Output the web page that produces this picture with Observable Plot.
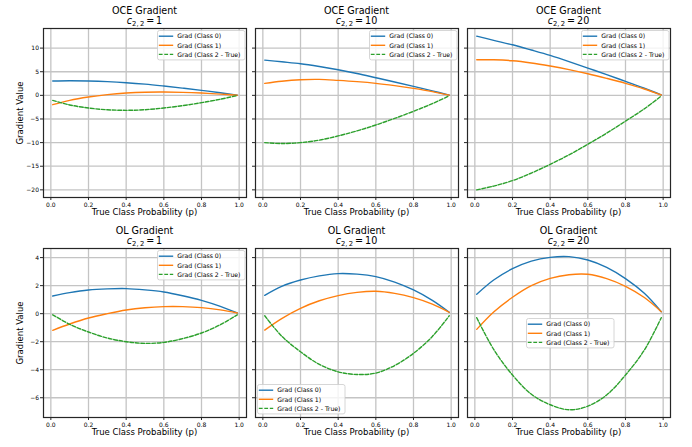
<!DOCTYPE html>
<html><head><meta charset="utf-8">
<script src="https://cdn.jsdelivr.net/npm/d3@7"></script>
<script src="https://cdn.jsdelivr.net/npm/@observablehq/plot@0.6"></script>
<style>
body{margin:0;background:#fff;}
#fig{position:relative;width:692px;height:447px;font-family:"DejaVu Sans",sans-serif;color:#000;overflow:hidden;background:#fff}
.abs{position:absolute;white-space:nowrap;line-height:1}
.title{font-size:9.6px;text-align:center}
.xlab{font-size:8.5px;text-align:center}
.ylab{font-size:8.5px}
svg{overflow:visible}
</style></head><body><div id="fig"></div><script>
// ---- data ----
const p = [0.01, 0.1, 0.2, 0.3, 0.4, 0.5, 0.6, 0.7, 0.8, 0.9, 0.99];
const seriesNames = ["Grad (Class 0)", "Grad (Class 1)", "Grad (Class 2 - True)"];
const xTicks = [0, 0.2, 0.4, 0.6, 0.8, 1.0];
const yTicksOCE = [-20, -15, -10, -5, 0, 5, 10];
const yTicksOL = [-6, -4, -2, 0, 2, 4];
const cValues = [1, 10, 20];

const oce1_c0 = [3.03, 3.08, 3.03, 2.90, 2.68, 2.37, 1.97, 1.53, 1.06, 0.55, 0.03];
const oce1_c1 = [-1.97, -1.05, -0.35, 0.15, 0.49, 0.67, 0.70, 0.64, 0.49, 0.27, 0.01];
const oce1_c2 = [-1.06, -2.03, -2.68, -3.05, -3.17, -3.04, -2.67, -2.17, -1.55, -0.82, -0.04];

const oce10_c0 = [7.46, 7.10, 6.69, 6.10, 5.42, 4.62, 3.73, 2.83, 1.90, 0.95, 0.05];
const oce10_c1 = [2.54, 3.00, 3.31, 3.38, 3.17, 2.90, 2.54, 2.05, 1.48, 0.80, 0.04];
const oce10_c2 = [-10.0, -10.2, -10.0, -9.48, -8.59, -7.52, -6.27, -4.88, -3.38, -1.75, -0.09];

const oce20_c0 = [12.54, 11.65, 10.70, 9.60, 8.45, 7.15, 5.77, 4.40, 2.95, 1.50, 0.08];
const oce20_c1 = [7.54, 7.52, 7.32, 6.85, 6.20, 5.45, 4.58, 3.60, 2.55, 1.35, 0.07];
const oce20_c2 = [-20.0, -19.2, -18.05, -16.45, -14.6, -12.6, -10.35, -8.0, -5.45, -2.85, -0.15];

const ol1_c0 = [1.26, 1.50, 1.69, 1.77, 1.79, 1.70, 1.55, 1.28, 0.95, 0.52, 0.05];
const ol1_c1 = [-1.19, -0.74, -0.31, 0.0, 0.26, 0.42, 0.50, 0.50, 0.43, 0.27, 0.05];
const ol1_c2 = [-0.08, -0.76, -1.31, -1.74, -2.0, -2.12, -2.05, -1.78, -1.38, -0.79, -0.08];

const ol10_c0 = [1.31, 1.95, 2.40, 2.70, 2.86, 2.82, 2.64, 2.25, 1.69, 0.95, 0.10];
const ol10_c1 = [-1.17, -0.35, 0.38, 0.92, 1.29, 1.52, 1.60, 1.45, 1.14, 0.68, 0.10];
const ol10_c2 = [-0.15, -1.60, -2.72, -3.62, -4.15, -4.34, -4.24, -3.70, -2.83, -1.63, -0.15];

const ol20_c0 = [1.38, 2.40, 3.21, 3.75, 4.02, 4.07, 3.83, 3.30, 2.50, 1.45, 0.14];
const ol20_c1 = [-1.12, 0.12, 1.17, 2.00, 2.52, 2.78, 2.81, 2.50, 1.95, 1.15, 0.14];
const ol20_c2 = [-0.29, -2.55, -4.38, -5.75, -6.50, -6.86, -6.60, -5.80, -4.38, -2.60, -0.29];

// ---- layout ----
const colors = ["#1f77b4", "#ff7f0e", "#2ca02c"];
const colLeft = [43, 255, 467], rowTop = [28, 248];
const FW = 203, FH = 169;
const fig = document.getElementById("fig");

const panels = [
  {row:0,col:0,name:"OCE Gradient",c:cValues[0],s:[oce1_c0,oce1_c1,oce1_c2],legend:[157,30.3]},
  {row:0,col:1,name:"OCE Gradient",c:cValues[1],s:[oce10_c0,oce10_c1,oce10_c2],legend:[369,30.3]},
  {row:0,col:2,name:"OCE Gradient",c:cValues[2],s:[oce20_c0,oce20_c1,oce20_c2],legend:[581,30.3]},
  {row:1,col:0,name:"OL Gradient",c:cValues[0],s:[ol1_c0,ol1_c1,ol1_c2],legend:[157,250.3]},
  {row:1,col:1,name:"OL Gradient",c:cValues[1],s:[ol10_c0,ol10_c1,ol10_c2],legend:[257,384]},
  {row:1,col:2,name:"OL Gradient",c:cValues[2],s:[ol20_c0,ol20_c1,ol20_c2],legend:[526,318]},
];

const fmtY = d => d < 0 ? "\u2212" + Math.abs(d) : String(d);

function addDiv(cls, html, left, top, extra) {
  const d = document.createElement("div");
  d.className = "abs " + cls;
  d.innerHTML = html;
  d.style.left = left + "px";
  d.style.top = top + "px";
  if (extra) Object.assign(d.style, extra);
  fig.appendChild(d);
  return d;
}

function legend(x, y) {
  const ns = "http://www.w3.org/2000/svg";
  const w = 87.5, h = 29.4;
  const svg = document.createElementNS(ns, "svg");
  svg.setAttribute("width", w + 1); svg.setAttribute("height", h + 1);
  svg.style.position = "absolute"; svg.style.left = (x - 0.5) + "px"; svg.style.top = (y - 0.5) + "px";
  let inner = `<rect x="0.5" y="0.5" width="${w}" height="${h}" rx="2" fill="white" fill-opacity="0.8" stroke="#cccccc" stroke-width="0.8"/>`;
  seriesNames.forEach((n, i) => {
    const cy = 0.5 + 5.7 + i * 9.1;
    inner += `<line x1="1.8" x2="16.2" y1="${cy}" y2="${cy}" stroke="${colors[i]}" stroke-width="1.4" ${i === 2 ? 'stroke-dasharray="3.8,1.7"' : ''}/>`;
    inner += `<text x="20.2" y="${cy + 2.2}" font-size="6.2" font-family="DejaVu Sans" fill="#000">${n}</text>`;
  });
  svg.innerHTML = inner;
  fig.appendChild(svg);
}

panels.forEach(pn => {
  const ml = 32, mr = 4, mt = 4, mb = 14;
  const yDomain = pn.row === 0 ? [-21.62, 14.15] : [-7.41, 4.65];
  const yTicks = pn.row === 0 ? yTicksOCE : yTicksOL;
  const marks = [
    Plot.gridX(xTicks, {stroke: "#c4c4c4", strokeOpacity: 1, strokeWidth: 1.3}),
    Plot.gridY(yTicks, {stroke: "#c4c4c4", strokeOpacity: 1, strokeWidth: 1.3}),
  ];
  pn.s.forEach((arr, i) => {
    const data = p.map((pp, j) => ({p: pp, v: arr[j], s: seriesNames[i]}));
    marks.push(Plot.line(data, {x: "p", y: "v", stroke: colors[i], strokeWidth: 1.4, curve: "catmull-rom",
      strokeDasharray: i === 2 ? "3.8,1.7" : null}));
  });
  marks.push(Plot.frame({stroke: "#262626", strokeWidth: 1.2}));
  marks.push(Plot.axisX({ticks: xTicks, tickSize: 3, tickPadding: 2, tickFormat: d => d.toFixed(1), fontSize: 6, label: null, stroke: "#262626"}));
  marks.push(Plot.axisY({ticks: yTicks, tickSize: 3, tickPadding: 1.5, tickFormat: pn.col === 0 ? fmtY : () => "", fontSize: 6, label: null, stroke: "#262626"}));
  const chart = Plot.plot({
    width: ml + FW + mr, height: mt + FH + mb,
    marginLeft: ml, marginRight: mr, marginTop: mt, marginBottom: mb,
    x: {domain: [-0.039, 1.039], label: null},
    y: {domain: yDomain, label: null},
    style: {fontFamily: "DejaVu Sans", fontSize: "6px", color: "#000", background: "transparent", overflow: "visible"},
    marks
  });
  chart.style.position = "absolute";
  chart.style.left = (colLeft[pn.col] - ml) + "px";
  chart.style.top = (rowTop[pn.row] - mt) + "px";
  fig.appendChild(chart);

  const L = colLeft[pn.col], T = rowTop[pn.row];
  addDiv("title", pn.name, L, T - 22, {width: FW + "px"});
  addDiv("title", `<i>c</i><span style="font-size:6.8px;position:relative;top:2.6px">2,&thinsp;2</span>&thinsp;=&thinsp;${pn.c}`, L, T - 12.3, {width: FW + "px"});
  addDiv("xlab", "True Class Probability (p)", L, T + FH + 11.3, {width: FW + "px"});
  if (pn.col === 0) {
    const d = addDiv("ylab", "", 20, T + FH / 2, {width: "0px", height: "0px"});
    d.innerHTML = `<span style="position:absolute;left:0;top:0;transform:translate(-50%,-50%) rotate(-90deg);white-space:nowrap;line-height:1">Gradient Value</span>`;
  }
  legend(pn.legend[0], pn.legend[1]);
});
</script></body></html>
